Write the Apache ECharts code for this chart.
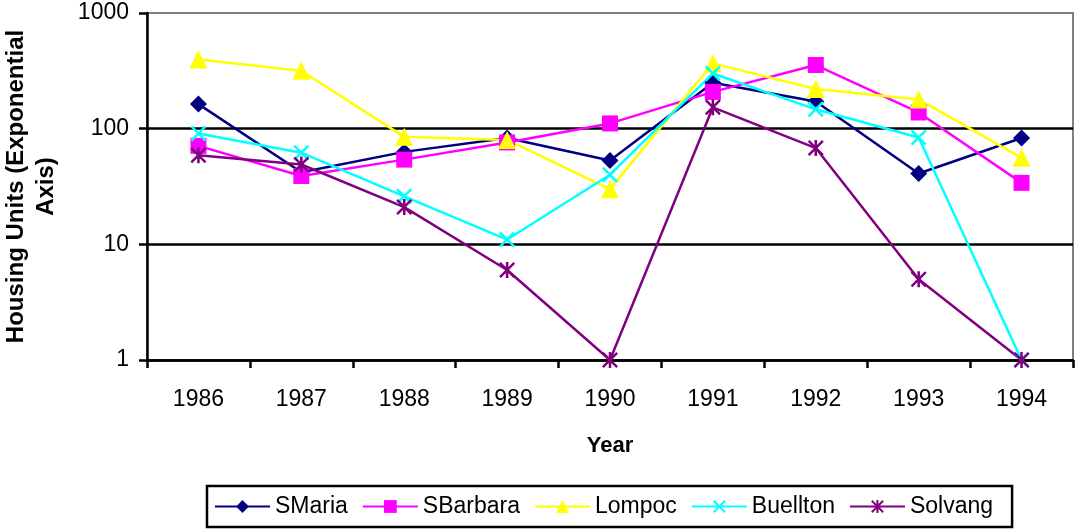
<!DOCTYPE html>
<html>
<head>
<meta charset="utf-8">
<script src="https://cdn.jsdelivr.net/npm/echarts@6/dist/echarts.min.js"></script>
<style>
html,body{margin:0;padding:0;background:#fff;}
#chart{width:1076px;height:529px;}
</style>
</head>
<body>
<div id="chart"></div>
<script>
const years = ['1986','1987','1988','1989','1990','1991','1992','1993','1994'];
const yTicks = [1, 10, 100, 1000];
const sMaria   = [163, 42, 63, 83, 53, 249, 172, 41, 83];
const sBarbara = [71, 39, 54, 76, 111, 208, 355, 138, 34];
const lompoc   = [397, 317, 85, 80, 30, 367, 220, 179, 56];
const buellton = [91, 62, 26, 11, 40, 300, 147, 84, 1];
const solvang  = [59, 49, 21, 6, 1, 153, 68, 5, 1];

const FONT = '"Liberation Sans", Arial, sans-serif';
const X_PATH = 'path://M0,11 L11,0 L100,89 L89,100 Z M89,0 L100,11 L11,100 L0,89 Z';
const STAR_PATH = 'path://M0,11 L11,0 L100,89 L89,100 Z M89,0 L100,11 L11,100 L0,89 Z M42,0 L58,0 L58,100 L42,100 Z';

function mk(name, data, color, symbol, size) {
  return {
    name: name, type: 'line', data: data,
    symbol: symbol, symbolSize: size,
    lineStyle: {color: color, width: 2.5},
    itemStyle: {color: color},
    emphasis: {disabled: true},
    animation: false
  };
}

const chart = echarts.init(document.getElementById('chart'), null, {renderer: 'canvas'});
chart.setOption({
  animation: false,
  backgroundColor: '#fff',
  textStyle: {fontFamily: FONT},
  grid: {left: 147, right: 3, top: 13, bottom: 169, containLabel: false, outerBoundsMode: 'none',
    show: true, borderColor: '#808080', borderWidth: 2, backgroundColor: 'transparent'},
  xAxis: {
    type: 'category', data: years, boundaryGap: true,
    axisLine: {lineStyle: {color: '#000', width: 2.5}},
    axisTick: {show: true, length: 8, lineStyle: {color: '#000', width: 2.5}},
    axisLabel: {color: '#000', fontSize: 23, fontFamily: FONT, margin: 28},
    name: 'Year', nameLocation: 'middle', nameGap: 75,
    nameTextStyle: {color: '#000', fontSize: 22, fontWeight: 'bold', fontFamily: FONT}
  },
  yAxis: {
    type: 'log', logBase: 10, min: yTicks[0], max: yTicks[yTicks.length-1],
    axisLine: {show: true, lineStyle: {color: '#000', width: 2.5}},
    axisTick: {show: true, length: 8, lineStyle: {color: '#000', width: 2.5}},
    axisLabel: {color: '#000', fontSize: 23, fontFamily: FONT, margin: 18,
      formatter: v => String(Math.round(v))},
    splitLine: {show: true, showMaxLine: false, lineStyle: {color: '#000', width: 2.5}},
    minorTick: {show: false},
    name: 'Housing Units (Exponential\nAxis)', nameLocation: 'middle', nameGap: 86,
    nameTextStyle: {color: '#000', fontSize: 24, fontWeight: 'bold', fontFamily: FONT, lineHeight: 30, align: 'center'}
  },
  legend: {
    left: 207, top: 486,
    padding: [9, 19, 9, 7],
    itemWidth: 55, itemHeight: 16, itemGap: 14,
    borderColor: '#000', borderWidth: 2.5,
    textStyle: {color: '#000', fontSize: 23, fontFamily: FONT, padding: [0, 0, 0, 0]},
    selectedMode: false,
    data: ['SMaria', 'SBarbara', 'Lompoc', 'Buellton', 'Solvang']
  },
  series: [
    mk('SMaria', sMaria, '#000080', 'diamond', 17),
    mk('SBarbara', sBarbara, '#FF00FF', 'rect', 16),
    mk('Lompoc', lompoc, '#FFFF00', 'triangle', 18),
    mk('Buellton', buellton, '#00FFFF', X_PATH, 16),
    mk('Solvang', solvang, '#800080', STAR_PATH, 16)
  ]
});
</script>
</body>
</html>
